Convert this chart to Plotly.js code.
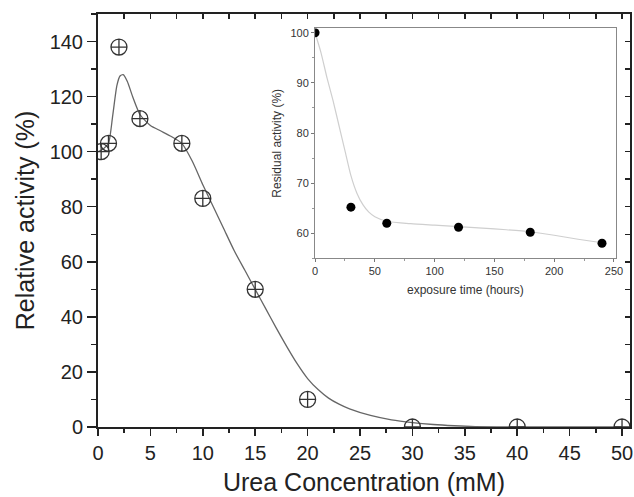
<!DOCTYPE html>
<html>
<head>
<meta charset="utf-8">
<script src="https://cdn.plot.ly/plotly-3.0.1.min.js"></script>
<style>
  html, body { margin: 0; padding: 0; background: #fff; }
  #chart { width: 634px; height: 497px; }
</style>
</head>
<body>
<div id="chart"></div>
<script>
    // main plot: activity vs urea concentration
    var ureaX = [0.3, 1, 2, 4, 8, 10, 15, 20, 30, 40, 50];
    var activityY = [100, 103, 138, 112, 103, 83, 50, 10, 0, 0, 0];

    // fitted curve
    var fitX = [0, 0.5, 1, 1.4, 1.8, 2.1, 2.4, 2.8, 3.3, 4, 5, 6, 7, 8, 9, 10, 11, 12, 13, 14, 15,
                16, 17, 18, 19, 20, 21, 22, 23, 24, 26, 28, 30, 32, 34, 36, 40, 45, 50];
    var fitY = [100, 101, 103, 113, 124, 127.5, 128, 125.5, 120, 113.5, 109.5, 107.5, 105.5, 103, 96.5, 88, 80, 72, 64, 57, 50,
                43, 36, 29.3, 23, 17.6, 13.6, 10.5, 8.3, 6.6, 4.2, 2.6, 1.6, 0.9, 0.45, 0.15, 0, 0, 0];

    // inset: residual activity vs exposure time
    var timeX = [0, 30, 60, 120, 180, 240];
    var residualY = [100, 65.2, 62, 61.2, 60.2, 58];
    var insetFitX = [0, 5, 10, 15, 20, 25, 30, 35, 40, 45, 50, 60, 80, 100, 120, 140, 160, 180, 200, 220, 240];
    var insetFitY = [100, 96, 91, 86.5, 81.5, 76.5, 71.5, 68, 65.7, 64.2, 63.3, 62.4, 61.9, 61.6, 61.3, 61.0, 60.7, 60.3, 59.6, 58.8, 58.1];

    var font = 'Liberation Sans, Arial, sans-serif';

    var data = [
        {x: fitX, y: fitY, type: 'scatter', mode: 'lines',
         line: {color: '#666', width: 1.3, shape: 'spline', smoothing: 0.6},
         xaxis: 'x', yaxis: 'y', hoverinfo: 'skip'},
        {x: ureaX, y: activityY, type: 'scatter', mode: 'markers',
         marker: {symbol: 'circle-cross-open', size: 16, color: '#333', line: {width: 1.3}},
         xaxis: 'x', yaxis: 'y'},
        // empty traces so the mirror tick axes get drawn
        {x: [], y: [], xaxis: 'x3', yaxis: 'y', type: 'scatter', mode: 'markers'},
        {x: [], y: [], xaxis: 'x', yaxis: 'y3', type: 'scatter', mode: 'markers'},
        {x: insetFitX, y: insetFitY, type: 'scatter', mode: 'lines',
         line: {color: '#cfcfcf', width: 1.2, shape: 'spline', smoothing: 0.6},
         xaxis: 'x2', yaxis: 'y2', hoverinfo: 'skip'},
        {x: timeX, y: residualY, type: 'scatter', mode: 'markers',
         marker: {symbol: 'circle', size: 9, color: '#000'},
         xaxis: 'x2', yaxis: 'y2'}
    ];

    var layout = {
        width: 634,
        height: 497,
        margin: {l: 98, r: 4, t: 14, b: 70},
        showlegend: false,
        paper_bgcolor: '#fff',
        plot_bgcolor: '#fff',
        font: {family: font, color: '#222'},
        xaxis: {
            domain: [0, 1],
            range: [0, 50.76],
            anchor: 'y',
            dtick: 5, tick0: 0,
            ticks: 'outside', ticklen: 7, tickwidth: 1.5, tickcolor: '#222',
            minor: {dtick: 2.5, ticks: 'outside', ticklen: 4, tickwidth: 1.5, tickcolor: '#222'},
            showline: true, linecolor: '#222', linewidth: 2, mirror: true,
            showgrid: false, zeroline: false,
            tickfont: {size: 20, family: font, color: '#222'},
            title: {text: 'Urea Concentration (mM)', font: {size: 25, family: font, color: '#222'}, standoff: 10}
        },
        yaxis: {
            domain: [0, 1],
            range: [0, 150],
            anchor: 'x',
            dtick: 20, tick0: 0,
            ticks: 'outside', ticklen: 9, tickwidth: 1.5, tickcolor: '#222',
            minor: {dtick: 10, ticks: 'outside', ticklen: 5, tickwidth: 1.5, tickcolor: '#222'},
            showline: true, linecolor: '#222', linewidth: 2, mirror: true,
            showgrid: false, zeroline: false,
            tickfont: {size: 20, family: font, color: '#222'},
            title: {text: 'Relative activity (%)', font: {size: 25, family: font, color: '#222'}, standoff: 8}
        },
        xaxis3: {
            overlaying: 'x', side: 'top', anchor: 'y',
            range: [0, 50.76], dtick: 2.5, tick0: 0,
            ticks: 'inside', ticklen: 5, tickwidth: 1.5, tickcolor: '#222',
            showticklabels: false, showgrid: false, zeroline: false, showline: false
        },
        yaxis3: {
            overlaying: 'y', side: 'right', anchor: 'x',
            range: [0, 150], dtick: 10, tick0: 0,
            ticks: 'inside', ticklen: 5, tickwidth: 1.5, tickcolor: '#222',
            showticklabels: false, showgrid: false, zeroline: false, showline: false
        },
        xaxis2: {
            domain: [0.408, 0.973],
            range: [0, 251.4],
            anchor: 'y2',
            dtick: 50, tick0: 0,
            ticks: 'outside', ticklen: 3, tickwidth: 1, tickcolor: '#777',
            minor: {dtick: 25, ticks: 'outside', ticklen: 2, tickcolor: '#999'},
            showline: true, linecolor: '#888', linewidth: 1, mirror: true,
            showgrid: false, zeroline: false,
            tickfont: {size: 11, family: font, color: '#333'},
            title: {text: 'exposure time (hours)', font: {size: 12, family: font, color: '#333'}, standoff: 9}
        },
        yaxis2: {
            domain: [0.4085, 0.9654],
            range: [55, 100.9],
            anchor: 'x2',
            dtick: 10, tick0: 0,
            ticks: 'outside', ticklen: 3, tickwidth: 1, tickcolor: '#777',
            minor: {dtick: 5, ticks: 'outside', ticklen: 2, tickcolor: '#999'},
            showline: true, linecolor: '#888', linewidth: 1, mirror: true,
            showgrid: false, zeroline: false,
            tickfont: {size: 11, family: font, color: '#333'},
            title: {text: 'Residual activity (%)', font: {size: 12, family: font, color: '#333'}, standoff: 6}
        }
    };

    var config = {responsive: false, displayModeBar: false, staticPlot: true};
    Plotly.newPlot('chart', data, layout, config);
</script>
</body>
</html>
